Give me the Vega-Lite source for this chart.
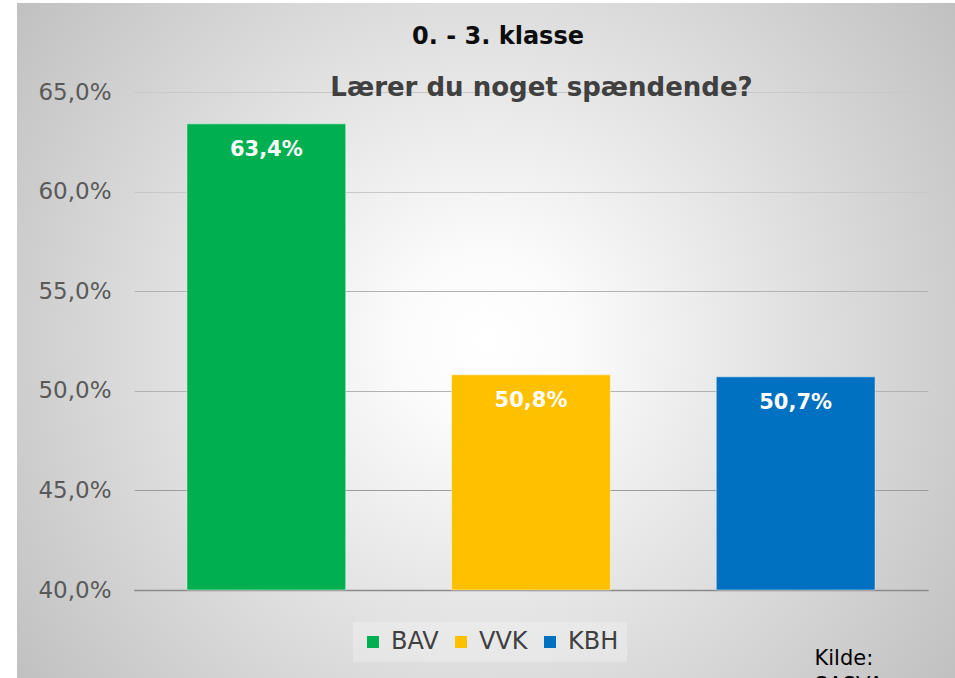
{
  "$schema": "https://vega.github.io/schema/vega-lite/v6.json",
  "width": 938,
  "height": 675,
  "autosize": {"type": "none"},
  "padding": {"left": 17, "top": 3, "right": 0, "bottom": 0},
  "background": "#ffffff",
  "view": {
    "stroke": null,
    "fill": {
      "gradient": "radial",
      "x1": 0.5, "y1": 0.5, "r1": 0,
      "x2": 0.5, "y2": 0.5, "r2": 0.62,
      "stops": [
        {"offset": 0, "color": "#ffffff"},
        {"offset": 0.15, "color": "#fbfbfb"},
        {"offset": 1, "color": "#c0c0c0"}
      ]
    }
  },
  "config": {
    "font": "DejaVu Sans",
    "locale": {"number": {"decimal": ",", "thousands": ".", "grouping": [3], "currency": ["", " kr."]}}
  },
  "title": {
    "text": "0. - 3. klasse",
    "anchor": "middle",
    "frame": "group",
    "offset": -65,
    "dx": 12,
    "baseline": "alphabetic",
    "font": "DejaVu Sans",
    "fontSize": 24,
    "fontWeight": "bold",
    "color": "#0d0d0d"
  },
  "data": {
    "values": [
      {"skole": "BAV", "andel": 0.634},
      {"skole": "VVK", "andel": 0.508},
      {"skole": "KBH", "andel": 0.507}
    ]
  },
  "encoding": {
    "x": {
      "field": "skole",
      "type": "nominal",
      "sort": null,
      "scale": {"domain": ["BAV", "VVK", "KBH"], "range": [117, 911], "paddingInner": 0.4, "paddingOuter": 0.2},
      "axis": {
        "orient": "bottom",
        "offset": -88,
        "labels": false,
        "ticks": false,
        "grid": false,
        "domain": true,
        "domainColor": "#8a8a8a",
        "domainWidth": 1.5,
        "title": ["Kilde:", "SASVA"],
        "titleX": 797,
        "titleY": 74,
        "titleAlign": "left",
        "titleBaseline": "alphabetic",
        "titleFont": "DejaVu Sans",
        "titleFontSize": 21,
        "titleFontWeight": "normal",
        "titleColor": "#000000",
        "titleLineHeight": 27
      }
    },
    "y": {
      "field": "andel",
      "type": "quantitative",
      "scale": {"domain": [0.4, 0.65], "range": [587, 89], "nice": false, "zero": false},
      "axis": {
        "orient": "left",
        "offset": -117,
        "values": [0.4, 0.45, 0.5, 0.55, 0.6, 0.65],
        "format": ".1%",
        "domain": false,
        "ticks": false,
        "labelPadding": 23,
        "labelFont": "DejaVu Sans",
        "labelFontSize": 23,
        "labelColor": "#595959",
        "grid": true,
        "gridWidth": 1,
        "gridColor": {
          "condition": [
            {"test": "datum.value <= 0.4", "value": "#8a8a8a"},
            {"test": "datum.value <= 0.45", "value": "#9c9c9c"},
            {"test": "datum.value <= 0.55", "value": "#b2b2b2"}
          ],
          "value": "#c8c8c8"
        },
        "title": "Lærer du noget spændende?",
        "titleAngle": 0,
        "titleX": 407,
        "titleY": 92,
        "titleAlign": "center",
        "titleBaseline": "alphabetic",
        "titleFont": "DejaVu Sans",
        "titleFontSize": 26,
        "titleFontWeight": "bold",
        "titleColor": "#404040"
      }
    }
  },
  "layer": [
    {
      "mark": {"type": "bar", "stroke": "#ffffff", "strokeOpacity": 0.45, "strokeWidth": 1},
      "encoding": {
        "y2": {"datum": 0.4},
        "color": {
          "field": "skole",
          "type": "nominal",
          "scale": {"domain": ["BAV", "VVK", "KBH"], "range": ["#00B050", "#FFC000", "#0070C0"]},
          "legend": {
            "orient": "none",
            "legendX": 336,
            "legendY": 619,
            "direction": "horizontal",
            "columns": 3,
            "title": null,
            "symbolType": "square",
            "symbolSize": 144,
            "symbolStrokeWidth": 0,
            "symbolOpacity": 1,
            "labelFont": "DejaVu Sans",
            "labelFontSize": 24,
            "labelColor": "#404040",
            "labelOffset": 6,
            "columnPadding": 10,
            "padding": 8,
            "fillColor": "rgba(255,255,255,0.25)"
          }
        }
      }
    },
    {
      "mark": {"type": "text", "baseline": "middle", "dy": 26, "fontSize": 21, "fontWeight": "bold", "font": "DejaVu Sans", "color": "#ffffff"},
      "encoding": {
        "text": {"field": "andel", "type": "quantitative", "format": ".1%"}
      }
    }
  ]
}
